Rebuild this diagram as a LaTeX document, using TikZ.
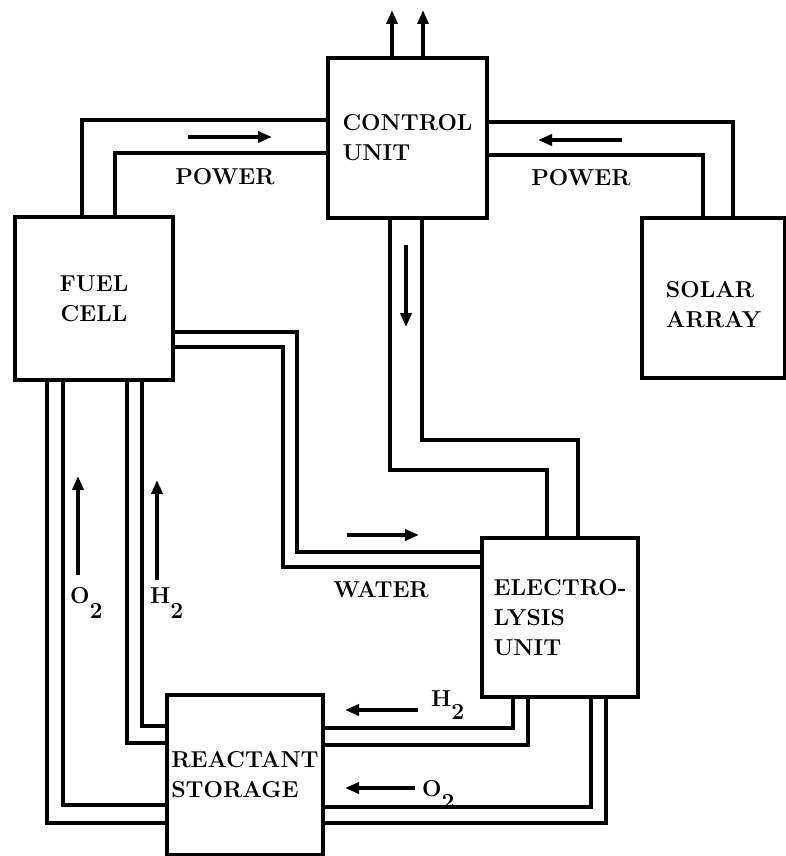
\documentclass[tikz,border=0pt]{standalone}
\usepackage{fontspec}
\usetikzlibrary{arrows.meta}
\begin{document}
\begin{tikzpicture}[x=1pt,y=-1pt,
  font=\fontsize{23}{30}\selectfont\bfseries,
  box/.style={draw,line width=3.2pt,inner sep=0pt,align=left},
  pipe/.style={line width=3.2pt},
  flow/.style={line width=3.4pt,-{Triangle[length=14pt,width=11pt]}},
  lbl/.style={inner sep=0pt}]
\useasboundingbox (0,0) rectangle (786,856);
% boxes
\node[box,minimum width=159pt,minimum height=160pt] (cu) at (407.5,138) {CONTROL\\UNIT};
\node[box,minimum width=158pt,minimum height=163pt,align=center] (fc) at (94,298.5) {FUEL\\CELL};
\node[box,minimum width=143pt,minimum height=160pt] (sa) at (713.5,298) {};
\node[lbl,align=left,yshift=-7pt] (satext) at (sa.center) {SOLAR\\ARRAY};
\node[box,minimum width=156pt,minimum height=159pt] (eu) at (560,617.5) {ELECTRO-\\LYSIS\\UNIT};
\node[box,minimum width=156pt,minimum height=160pt] (rs) at (245,775) {REACTANT\\STORAGE};
% outputs of control unit
\draw[flow] (cu.north -| 392,0) -- (392,10);
\draw[flow] (cu.north -| 423,0) -- (423,10);
% power pipes
\draw[pipe] (fc.north -| 82,0) |- (cu.west |- 0,120);
\draw[pipe] (fc.north -| 115,0) |- (cu.west |- 0,153);
\draw[pipe] (cu.east |- 0,122) -| (sa.north -| 733,0);
\draw[pipe] (cu.east |- 0,155) -| (sa.north -| 703,0);
% control unit to electrolysis unit
\draw[pipe] (cu.south -| 390,0) -- (390,470) -| (eu.north -| 547,0);
\draw[pipe] (cu.south -| 422,0) -- (422,440) -| (eu.north -| 578,0);
% water
\draw[pipe] (fc.east |- 0,332) -| (297,552) -- (eu.west |- 0,552);
\draw[pipe] (fc.east |- 0,347) -| (283,567) -- (eu.west |- 0,567);
% fuel cell to reactant storage
\draw[pipe] (fc.south -| 47,0) |- (rs.west |- 0,823);
\draw[pipe] (fc.south -| 63,0) |- (rs.west |- 0,805);
\draw[pipe] (fc.south -| 127,0) |- (rs.west |- 0,743);
\draw[pipe] (fc.south -| 142,0) |- (rs.west |- 0,726);
% electrolysis unit to reactant storage
\draw[pipe] (eu.south -| 513,0) |- (rs.east |- 0,728);
\draw[pipe] (eu.south -| 528,0) |- (rs.east |- 0,745);
\draw[pipe] (eu.south -| 591,0) |- (rs.east |- 0,807);
\draw[pipe] (eu.south -| 606,0) |- (rs.east |- 0,823);
% flow arrows
\draw[flow] (188,137) -- (272,137);
\draw[flow] (622,140) -- (538,140);
\draw[flow] (406,245) -- (406,327);
\draw[flow] (347,535) -- (419,535);
\draw[flow] (78,575) -- (78,476);
\draw[flow] (157,580) -- (157,480);
\draw[flow] (418,710) -- (345,710);
\draw[flow] (415,788) -- (345,788);
% labels
\node[lbl] (pl) at (225,177) {POWER};
\node[lbl] (pr) at (581,178) {POWER};
\node[lbl] (wa) at (381,590) {WATER};
\node[lbl,anchor=base west] (ol) at (70,603) {O\raisebox{-15pt}{2}};
\node[lbl,anchor=base west] (hl) at (150,603) {H\raisebox{-15pt}{2}};
\node[lbl,anchor=base west] (hr) at (431,706) {H\raisebox{-13pt}{2}};
\node[lbl,anchor=base west] (or) at (422,796) {O\raisebox{-13pt}{2}};
\end{tikzpicture}
\end{document}
